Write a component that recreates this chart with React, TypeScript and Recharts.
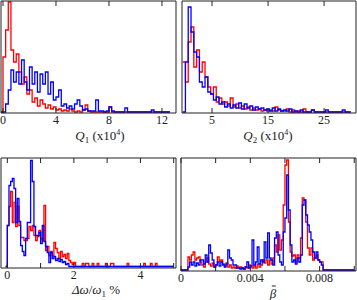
import React from 'react'
import { LineChart, Line, XAxis, YAxis } from 'recharts'

// Q1 histogram (x10^4), bins of 0.2
const q1Start = -0.2
const q1Step = 0.2
const q1Red = [
  0, 55, 82, 110, 62, 50, 58, 40, 28, 35,
  18, 22, 10, 14, 6, 12, 8, 4, 7, 3,
  5, 2, 3, 1, 2, 1, 3, 1, 0, 1,
  0, 2, 7, 1, 0, 0, 0, 0, 0, 0,
  0, 5, 0, 0, 0, 0, 0, 0, 0, 0,
  0, 0, 0, 0, 0, 0, 0, 0, 0, 0,
  0, 0, 0, 0, 0
]
const q1Blue = [
  0, 0, 8, 22, 42, 30, 40, 28, 52, 30,
  22, 45, 28, 40, 20, 38, 28, 40, 18, 30,
  12, 15, 22, 6, 8, 4, 6, 3, 8, 12,
  6, 2, 3, 1, 1, 1, 12, 1, 1, 0,
  1, 5, 1, 0, 0, 0, 0, 4, 0, 0,
  0, 0, 0, 0, 0, 0, 0, 2, 0, 0,
  0, 0, 0, 0, 0
]
const q1Ticks = [0, 4, 8, 12]
const q1Labels = ['0', '4', '8', '12']

// Q2 histogram (x10^4), bins of 0.5
const q2Start = -0.25
const q2Step = 0.5
const q2Red = [
  50, 30, 70, 85, 45, 62, 40, 50, 35, 25,
  18, 25, 10, 14, 8, 10, 6, 14, 5, 8,
  4, 6, 3, 5, 2, 4, 2, 3, 1, 2,
  1, 2, 1, 5, 2, 1, 1, 3, 0, 2,
  0, 1, 0, 3, 0, 0, 2, 0, 0, 0,
  0, 0, 0, 0, 0, 0, 0, 0, 0, 0,
  0
]
const q2Blue = [
  0, 50, 105, 80, 60, 55, 30, 25, 35, 20,
  18, 12, 15, 8, 10, 5, 8, 4, 7, 4,
  9, 3, 8, 4, 6, 2, 5, 3, 4, 2,
  3, 1, 4, 1, 3, 1, 2, 1, 3, 0,
  1, 0, 2, 0, 0, 0, 2, 0, 0, 0,
  0, 2, 0, 0, 0, 0, 0, 2, 0, 0,
  0
]
const q2Ticks = [5, 15, 25]
const q2Labels = ['5', '15', '25']

// delta omega / omega1 (%), bins of 0.05
const dwStart = -0.05
const dwStep = 0.05
const dwRed = [
  0,
  41, 60, 75, 44, 64, 40, 60, 41, 29, 29,
  26, 26, 28, 40, 36, 41, 31, 26, 30, 36,
  28, 26, 61, 16, 20, 11, 15, 11, 24, 18,
  14, 8, 15, 10, 12, 8, 13, 6, 4, 2,
  4, 0, 0, 0, 0, 3, 0, 3, 3, 0,
  0, 3, 0, 0, 3, 0, 0, 0, 0, 3,
  0, 0, 3, 3, 0, 0, 0, 0, 0, 0,
  0, 0, 3, 0, 0, 0, 0, 0, 0, 0,
  0, 0, 3, 0, 0, 0, 3, 0, 0, 3,
  0, 0, 0, 0, 0, 0, 0, 0, 0, 0,
  0
]
const dwBlue = [
  0,
  41, 81, 85, 88, 78, 44, 68, 45, 21, 15,
  11, 28, 44, 44, 106, 85, 40, 31, 31, 34,
  23, 41, 25, 20, 14, 4, 14, 8, 10, 6,
  8, 5, 7, 4, 5, 2, 3, 0, 0, 0,
  0, 0, 0, 0, 0, 0, 0, 0, 0, 0,
  0, 0, 0, 0, 0, 0, 0, 0, 0, 0,
  0, 0, 0, 0, 0, 0, 0, 0, 0, 0,
  0, 0, 0, 0, 0, 0, 0, 0, 0, 0,
  0, 0, 0, 0, 0, 0, 0, 0, 0, 0,
  0, 0, 0, 0, 0, 0, 0, 0, 0, 0,
  0
]
const dwTicks = [0, 1, 2, 3, 4, 5]
const dwLabels = ['0', '', '2', '', '4', '']

// beta bar, bins of 0.0001
const btStart = 0
const btStep = 0.0001
const btRed = [
  0, 0, 0, 0, 13, 10, 15, 18, 10, 12,
  13, 8, 5, 3, 8, 12, 6, 4, 7, 3,
  5, 13, 9, 10, 6, 4, 7, 3, 5, 2,
  3, 2, 4, 2, 3, 2, 1, 3, 2, 5,
  3, 2, 4, 2, 6, 3, 5, 10, 7, 10,
  5, 10, 6, 12, 25, 18, 35, 20, 30, 65,
  105, 110, 48, 18, 14, 15, 8, 15, 12, 32,
  72, 70, 48, 22, 15, 22, 10, 12, 15, 10,
  8, 8, 0, 0, 0, 0, 0, 0, 0, 0,
  0, 0, 0, 0, 0, 0, 0, 0, 0, 0,
  0
]
const btBlue = [
  0, 0, 0, 0, 3, 8, 5, 8, 4, 7,
  5, 10, 10, 6, 15, 8, 25, 17, 10, 3,
  5, 8, 4, 8, 5, 3, 6, 20, 12, 10,
  5, 5, 2, 2, 1, 2, 1, 3, 8, 2,
  4, 30, 5, 8, 23, 6, 10, 8, 28, 12,
  37, 12, 10, 5, 32, 38, 15, 8, 5, 38,
  52, 95, 60, 25, 8, 10, 6, 12, 8, 15,
  65, 70, 55, 45, 38, 30, 18, 12, 18, 10,
  8, 5, 0, 0, 0, 0, 0, 0, 0, 0,
  0, 0, 0, 0, 0, 0, 0, 0, 0, 0,
  0
]
const btTicks = [0, 0.002, 0.004, 0.006, 0.008, 0.01]
const btLabels = ['0', '', '0.004', '', '0.008', '']

const FONT = '"Liberation Serif", "DejaVu Serif", serif'
const INK = '#222'
const PAD = 8

function rows(start: number, step: number, red: number[], blue: number[]) {
  return red.map((r, i) => ({ x: start + i * step, red: r, blue: blue[i] }))
}

interface PanelProps {
  left: number
  top: number
  width: number
  height: number
  xDomain: [number, number]
  yDomain: [number, number]
  ticks: number[]
  labels: string[]
  data: { x: number; red: number; blue: number }[]
}

function Panel({ left, top, width, height, xDomain, yDomain, ticks, labels, data }: PanelProps) {
  const fmt = (v: number) => labels[ticks.indexOf(v)] ?? ''
  return (
    <div style={{ position: 'absolute', left: left - 1 - PAD, top: top - 1 }}>
      <LineChart
        width={width + 2 + 2 * PAD}
        height={height + 31}
        data={data}
        margin={{ top: 0, right: PAD, bottom: 0, left: PAD }}
      >
        <XAxis
          dataKey="x"
          type="number"
          domain={xDomain}
          allowDataOverflow
          ticks={ticks}
          interval={0}
          tickFormatter={fmt}
          height={30}
          tickSize={-5}
          tickMargin={7}
          stroke={INK}
          tick={{ fill: INK, fontSize: 12, fontFamily: FONT }}
        />
        <XAxis
          xAxisId="top"
          orientation="top"
          dataKey="x"
          type="number"
          domain={xDomain}
          allowDataOverflow
          ticks={ticks}
          interval={0}
          tickFormatter={() => ''}
          height={1}
          tickSize={-5}
          stroke={INK}
        />
        <YAxis type="number" domain={yDomain} allowDataOverflow width={1} tick={false} tickLine={false} stroke={INK} />
        <YAxis
          yAxisId="r"
          orientation="right"
          type="number"
          domain={yDomain}
          allowDataOverflow
          width={1}
          tick={false}
          tickLine={false}
          stroke={INK}
        />
        <Line type="stepAfter" dataKey="red" stroke="#ff0000" strokeWidth={1.3} dot={false} isAnimationActive={false} />
        <Line type="stepAfter" dataKey="blue" stroke="#0000ff" strokeWidth={1.3} dot={false} isAnimationActive={false} />
      </LineChart>
    </div>
  )
}

function Title({ x, y, children }: { x: number; y: number; children: React.ReactNode }) {
  return (
    <div
      style={{
        position: 'absolute',
        left: x,
        top: y,
        transform: 'translate(-50%, -50%)',
        fontFamily: FONT,
        fontSize: 13,
        color: INK,
        whiteSpace: 'nowrap',
        lineHeight: 1
      }}
    >
      {children}
    </div>
  )
}

export default function App() {
  return (
    <div style={{ position: 'absolute', left: 0, top: 0, width: 357, height: 300, background: '#fff', overflow: 'hidden' }}>
      <Panel
        left={1}
        top={1}
        width={175}
        height={112}
        xDomain={[-0.15, 13.06]}
        yDomain={[-1, 111]}
        ticks={q1Ticks}
        labels={q1Labels}
        data={rows(q1Start, q1Step, q1Red, q1Blue)}
      />
      <Panel
        left={182}
        top={1}
        width={174}
        height={112}
        xDomain={[-0.36, 30.7]}
        yDomain={[-1, 111]}
        ticks={q2Ticks}
        labels={q2Labels}
        data={rows(q2Start, q2Step, q2Red, q2Blue)}
      />
      <Panel
        left={1}
        top={158}
        width={175}
        height={110}
        xDomain={[-0.19, 5.07]}
        yDomain={[-1.5, 108.5]}
        ticks={dwTicks}
        labels={dwLabels}
        data={rows(dwStart, dwStep, dwRed, dwBlue)}
      />
      <Panel
        left={181}
        top={158}
        width={175}
        height={113}
        xDomain={[0, 0.0101]}
        yDomain={[-1, 112]}
        ticks={btTicks}
        labels={btLabels}
        data={rows(btStart, btStep, btRed, btBlue)}
      />
      <Title x={100} y={137}>
        <i>Q</i>
        <sub style={{ fontSize: 9 }}>1</sub> (x10<sup style={{ fontSize: 8 }}>4</sup>)
      </Title>
      <Title x={268} y={137}>
        <i>Q</i>
        <sub style={{ fontSize: 9 }}>2</sub> (x10<sup style={{ fontSize: 8 }}>4</sup>)
      </Title>
      <Title x={96} y={291}>
        <i>Δω</i>/<i>ω</i>
        <sub style={{ fontSize: 9 }}>1</sub> %
      </Title>
      <Title x={273} y={293}>
        <span style={{ position: 'relative', display: 'inline-block', fontStyle: 'italic' }}>
          β
          <span
            style={{
              position: 'absolute',
              left: '30%',
              width: '60%',
              top: -1,
              borderTop: `1px solid ${INK}`
            }}
          />
        </span>
      </Title>
    </div>
  )
}
